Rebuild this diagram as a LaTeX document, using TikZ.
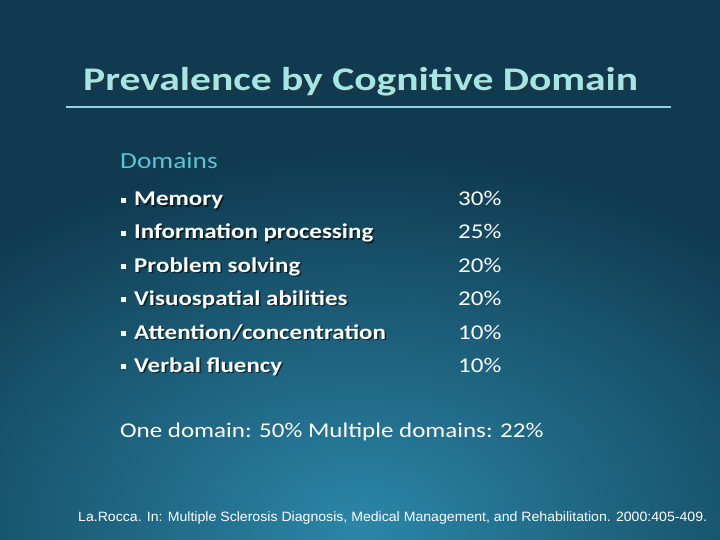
\documentclass[tikz,border=0pt]{standalone}
\usepackage{fontspec}
\setmainfont{Carlito}
\newfontfamily\arialf{Liberation Sans}
\definecolor{bgdark}{HTML}{0F3A4F}
\definecolor{bglight}{HTML}{2B86A8}
\definecolor{titlec}{HTML}{A6E6E2}
\definecolor{domc}{HTML}{5EC3D3}
\newcommand{\wid}[1]{\scalebox{1.19}[1]{#1}}
\begin{document}
\begin{tikzpicture}[x=1pt,y=-1pt,
  item/.style={anchor=base west,text=white,font=\bfseries\fontsize{21}{24}\selectfont,inner sep=0pt},
  pct/.style={anchor=base west,text=white,font=\fontsize{21}{24}\selectfont,inner sep=0pt}]
\useasboundingbox (0,0) rectangle (720,540);
\fill[bgdark] (0,0) rectangle (720,540);
\shade[inner color=bglight,outer color=bgdark] (-200,150) rectangle (920,900);
\node[anchor=base west,inner sep=0pt,text=black!80,opacity=0.5,font=\bfseries\fontsize{33}{36}\selectfont] at (85,93) {\scalebox{1.26}[1]{Prevalence by Cognitive Domain}};
\node (title)[anchor=base west,inner sep=0pt,text=titlec,font=\bfseries\fontsize{33}{36}\selectfont] at (83,91) {\scalebox{1.26}[1]{Prevalence by Cognitive Domain}};
\coordinate (l1) at (66,107); \coordinate (l2) at (671,107);
\draw[domc!70!white,line width=1.2pt] (l1) -- (l2);
\node (dom)[anchor=base west,inner sep=0pt,text=domc,font=\fontsize{23}{26}\selectfont] at (120,169) {\wid{Domains}};
\foreach \t/\p/\y [count=\i] in {{Memory}/{30\%}/206,{Information processing}/{25\%}/239,{Problem solving}/{20\%}/272,{Visuospatial abilities}/{20\%}/305,{Attention/concentration}/{10\%}/339,{Verbal fluency}/{10\%}/372}{
  \node (b\i)[anchor=base west,inner sep=0pt,text=white] at (121,\y-3) {\rule{5pt}{5pt}};
  \node[item,text=black,opacity=0.6] at (135.5,\y+1.5) {\wid{\t}};
  \node (it\i)[item] at (134,\y) {\wid{\t}};
  \node (p\i)[pct] at (458,\y) {\wid{\p}};
}
\node (sum)[anchor=base west,inner sep=0pt,text=white,font=\fontsize{21}{24}\selectfont] at (120,437) {\wid{One domain: 50\% Multiple domains: 22\%}};
\node (cite)[anchor=base west,inner sep=0pt,text=white,font=\arialf\fontsize{13.5}{16}\selectfont] at (78,521) {\scalebox{1.045}[1]{La.Rocca. In: Multiple Sclerosis Diagnosis, Medical Management, and Rehabilitation. 2000:405-409.}};
\end{tikzpicture}
\end{document}
